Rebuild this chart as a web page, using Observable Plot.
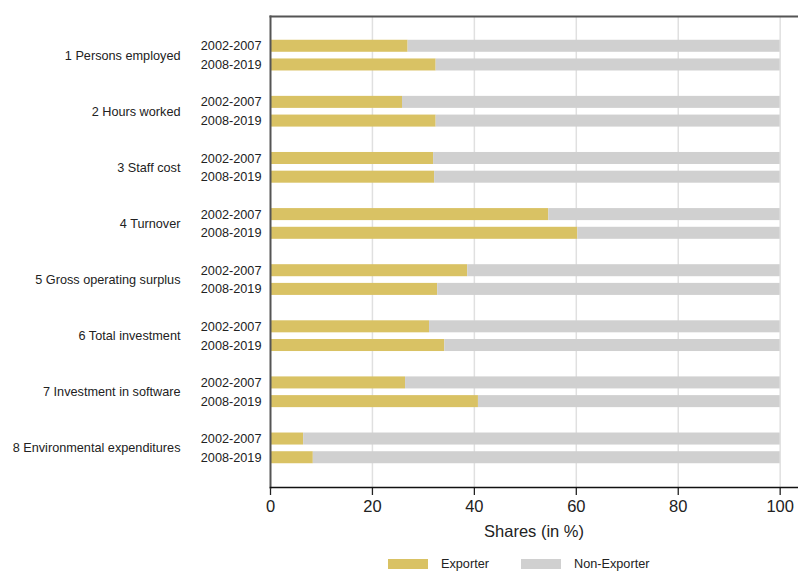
<!DOCTYPE html>
<html>
<head>
<meta charset="utf-8">
<script src="https://cdn.jsdelivr.net/npm/d3@7"></script>
<script src="https://cdn.jsdelivr.net/npm/@observablehq/plot@0.6"></script>
<style>
  html, body { margin: 0; padding: 0; background: #fff; }
  body { width: 798px; height: 572px; overflow: hidden; font-family: "Liberation Sans", Arial, sans-serif; }
  #legend { position: relative; height: 22px; font-size: 12.7px; color: #222; }
  #legend .sw { position: absolute; width: 40px; height: 10px; }
  #legend .lb { position: absolute; line-height: 14px; }
</style>
</head>
<body>
<div id="chart"></div>
<div id="legend"></div>
<script>
// ---- data ----
const categories = [
  "1 Persons employed",
  "2 Hours worked",
  "3 Staff cost",
  "4 Turnover",
  "5 Gross operating surplus",
  "6 Total investment",
  "7 Investment in software",
  "8 Environmental expenditures"
];
const periods = ["2002-2007", "2008-2019"];
const groups = ["Exporter", "Non-Exporter"];
const exporter2002 = [27.0, 25.9, 32.0, 54.6, 38.7, 31.2, 26.5, 6.5];
const exporter2008 = [32.5, 32.5, 32.2, 60.3, 32.8, 34.2, 40.8, 8.4];
const nonExporter2002 = [73.0, 74.1, 68.0, 45.4, 61.3, 68.8, 73.5, 93.5];
const nonExporter2008 = [67.5, 67.5, 67.8, 39.7, 67.2, 65.8, 59.2, 91.6];
const xTicks = [0, 20, 40, 60, 80, 100];
const colors = ["#d9c264", "#d0d0d0"];

// ---- build table ----
const key = (i, p) => `${i}|${p}`;
const slots = categories.flatMap((c, i) =>
  i < categories.length - 1 ? [key(i, 0), key(i, 1), `gap${i}`] : [key(i, 0), key(i, 1)]
);
const series = {
  "Exporter": [exporter2002, exporter2008],
  "Non-Exporter": [nonExporter2002, nonExporter2008]
};
const rows = [];
for (const g of groups) {
  categories.forEach((c, i) => {
    periods.forEach((p, j) => {
      rows.push({slot: key(i, j), category: c, period: p, group: g, value: series[g][j][i]});
    });
  });
}
const periodTicks = categories.flatMap((c, i) => [key(i, 0), key(i, 1)]);
const periodOf = k => periods[+k.split("|")[1]];

const height = 548, marginTop = 16, marginBottom = height - 487;
const paddingInner = 0.357, paddingOuter = 1.27;
const step = (height - marginTop - marginBottom) / (slots.length - paddingInner + 2 * paddingOuter);

const chart = Plot.plot({
  width: 798,
  height,
  marginTop,
  marginBottom,
  marginLeft: 270,
  marginRight: 1,
  style: {fontFamily: "'Liberation Sans', Arial, sans-serif", fontSize: "12.7px", color: "#222", background: "#fff"},
  x: {domain: [0, 103.4]},
  y: {domain: slots, paddingInner, paddingOuter, round: false},
  color: {domain: groups, range: colors},
  marks: [
    Plot.gridX(xTicks.filter(d => d > 0), {stroke: "#e0e0e0", strokeOpacity: 1, strokeWidth: 1.5}),
    Plot.barX(rows, {x: "value", y: "slot", fill: "group"}),
    Plot.axisY(periodTicks, {tickSize: 0, tickPadding: 9, tickFormat: periodOf, label: null, fill: "#222"}),
    Plot.text(categories, {
      y: (c, i) => key(i, 0), text: d => d, frameAnchor: "left",
      dx: -90, dy: step / 2, textAnchor: "end", fill: "#222"
    }),
    Plot.axisX(xTicks, {
      tickSize: 8, tickPadding: 5, fontSize: 16.5, strokeWidth: 1.3,
      label: "Shares (in %)", labelAnchor: "center", labelArrow: "none", labelOffset: 49
    }),
    Plot.frame({anchor: "top", stroke: "#555", strokeWidth: 2}),
    Plot.frame({anchor: "left", stroke: "#555", strokeWidth: 2}),
    Plot.frame({anchor: "bottom", stroke: "#111", strokeWidth: 1.5})
  ]
});
document.getElementById("chart").append(chart);

// ---- legend ----
const legend = document.getElementById("legend");
const legendPos = [{sw: 388, lb: 441}, {sw: 521, lb: 574}];
groups.forEach((g, i) => {
  const sw = document.createElement("div");
  sw.className = "sw";
  sw.style.left = legendPos[i].sw + "px";
  sw.style.top = "11px";
  sw.style.background = colors[i];
  const lb = document.createElement("div");
  lb.className = "lb";
  lb.style.left = legendPos[i].lb + "px";
  lb.style.top = "9px";
  lb.textContent = g;
  legend.append(sw, lb);
});
</script>
</body>
</html>
